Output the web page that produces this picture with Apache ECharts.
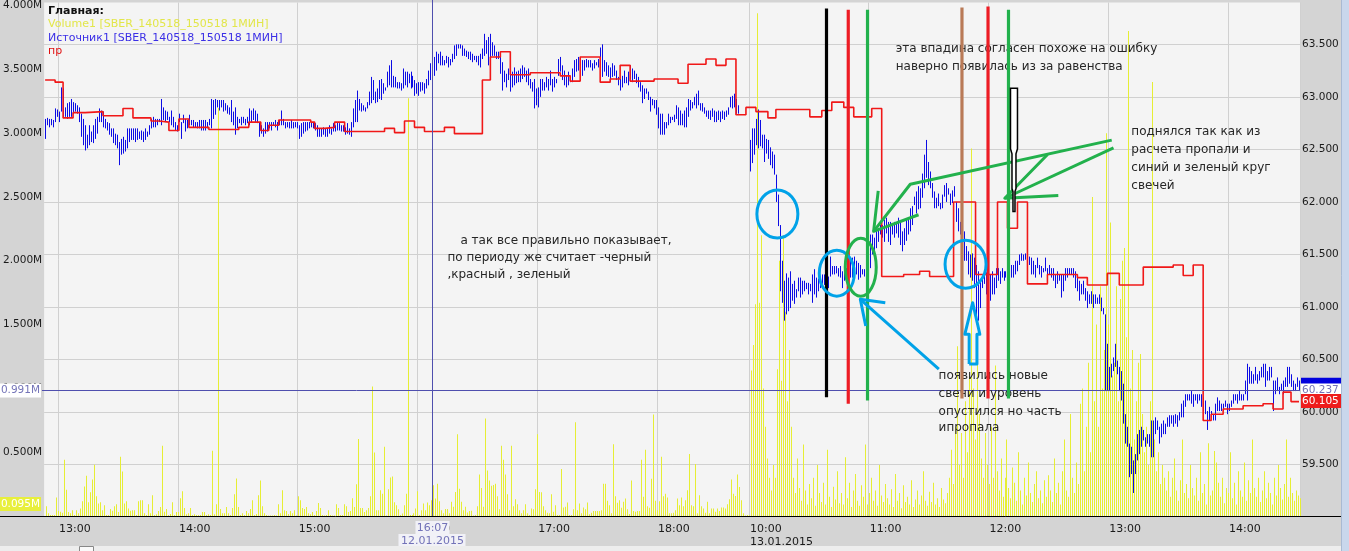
<!DOCTYPE html>
<html><head><meta charset="utf-8">
<script src="https://cdn.jsdelivr.net/npm/echarts@6/dist/echarts.min.js"></script>
<style>html,body{margin:0;padding:0;background:#d4d4d4;overflow:hidden}#c{width:1349px;height:551px}</style>
</head><body><div id="c"></div>
<script>
// ---------- DATA ----------
const sessions = [['12.01.2015','12:53','18:45'],['13.01.2015','10:00','14:35']];
const seriesNames = ['Volume1 [SBER_140518_150518 1МИН]','Источник1 [SBER_140518_150518 1МИН]','пр'];
// 1-minute highs / lows of "Источник1", in kopecks (price*100)
const highs = [
6279,6280,6279,6279,6278,6289,6288,6286,6309,6308, 6290,6294,6295,6298,6295,6294,6292,6290,6284,6279,
6273,6264,6273,6267,6273,6279,6281,6289,6287,6286, 6279,6276,6275,6270,6270,6265,6264,6257,6260,6262,
6259,6270,6270,6270,6270,6270,6270,6267,6268,6267, 6270,6267,6273,6279,6281,6279,6279,6279,6298,6290,
6287,6286,6281,6287,6281,6276,6273,6284,6276,6283, 6279,6278,6283,6278,6278,6276,6276,6278,6278,6278,
6278,6276,6279,6298,6297,6298,6297,6297,6297,6297, 6294,6292,6290,6297,6286,6290,6281,6279,6281,6281,
6279,6281,6289,6287,6289,6287,6284,6276,6273,6270, 6276,6276,6276,6276,6276,6278,6276,6278,6287,6279,
6276,6276,6276,6278,6276,6276,6276,6273,6275,6276, 6276,6276,6276,6276,6276,6275,6273,6270,6270,6271,
6270,6270,6273,6270,6275,6273,6276,6275,6273,6273, 6271,6275,6270,6276,6289,6297,6306,6298,6294,6292,
6290,6295,6305,6319,6316,6305,6308,6316,6317,6313, 6309,6324,6330,6335,6320,6319,6314,6314,6313,6327,
6324,6324,6322,6324,6320,6316,6313,6314,6314,6314, 6313,6317,6325,6332,6332,6338,6343,6341,6343,6339,
6335,6339,6338,6336,6341,6349,6350,6350,6350,6349, 6346,6344,6343,6343,6341,6339,6339,6339,6341,6346,
6360,6354,6357,6360,6352,6349,6343,6343,6339,6333, 6325,6322,6327,6327,6324,6328,6324,6325,6327,6330,
6328,6325,6327,6317,6314,6317,6308,6309,6317,6317, 6314,6319,6317,6325,6317,6319,6317,6336,6338,6330,
6325,6320,6324,6320,6327,6335,6336,6338,6338,6335, 6335,6336,6335,6335,6332,6335,6333,6336,6347,6350,
6335,6333,6330,6328,6332,6330,6325,6319,6317,6320, 6325,6319,6324,6330,6327,6325,6322,6319,6314,6311,
6308,6308,6305,6300,6298,6297,6297,6290,6284,6284, 6276,6276,6284,6281,6281,6283,6292,6290,6287,6284,
6287,6290,6298,6297,6295,6300,6303,6306,6294,6294, 6290,6287,6287,6287,6289,6287,6286,6287,6286,6287,
6286,6287,6290,6300,6301,6303,6298,6292,null,null, null,null,null,6259,6270,6270,6279,6288,6278,6264,
6264,6260,6259,6252,6248,6245,6226,6207,6178,6144, 6125,6132,6128,6134,6122,6125,6117,6128,6128,6125,
6125,6123,6123,6122,6131,6136,6128,6127,6128,6131, 6131,6131,6129,6148,6139,6139,6139,6137,6139,6134,
6140,6137,6142,6144,6147,6148,6144,6142,6140,6136, 6136,6136,6159,6169,6169,6166,6172,6175,6178,6178,
6183,6185,6181,6181,6180,6181,6180,6185,6181,6172, 6175,6183,6185,6194,6196,6205,6210,6215,6213,6227,
6245,6259,6238,6229,6218,6210,6204,6208,6199,6207, 6216,6218,6213,6208,6211,6215,6200,6194,6181,6169,
6172,6158,6153,6150,6151,6147,6140,6134,6125,6128, 6134,6133,6128,6131,6134,6128,6137,6137,6134,6137,
6134,6134,6137,6140,6140,6140,6144,6144,6150,6151, 6150,6151,6153,6148,6147,6144,6140,6147,6140,6139,
6137,6147,6137,6140,6137,6137,6131,6134,6131,6131, 6131,6137,6137,6137,6137,6137,6134,6128,6125,6122,
6125,6118,6115,6112,6115,6112,6112,6109,6112,6109, 6099,6093,6065,6043,6046,6052,6065,6049,6043,6039,
6027,5998,5986,5970,5967,5954,5960,5979,5983,5986, 5983,5976,5979,5979,5992,5992,5995,5992,5986,5989,
5992,5989,5995,5997,5997,5997,5998,5997,6000,6008, 6011,6017,6017,6017,6020,6017,6017,6017,6017,6017,
6014,6011,6001,6005,6001,5998,6008,6014,6011,6008, 6008,6011,6008,6008,6011,6017,6017,6017,6020,6017,
6017,6030,6046,6043,6039,6036,6043,6036,6039,6043, 6046,6046,6039,6043,6043,6030,6030,6033,6024,6027,
6030,6033,6043,6043,6036,6030,6027,6033,6030];
const lows = [
6260,6273,6271,6273,6271,6276,6281,6276,6286,6281, 6281,6279,6281,6281,6284,6286,6284,6276,6262,6254,
6249,6251,6254,6257,6256,6260,6265,6276,6276,6271, 6270,6268,6264,6262,6256,6254,6251,6235,6245,6246,
6248,6251,6257,6259,6259,6257,6259,6260,6259,6257, 6259,6262,6264,6270,6271,6271,6273,6276,6273,6278,
6276,6278,6276,6273,6271,6268,6267,6276,6260,6275, 6267,6270,6273,6273,6271,6271,6270,6270,6268,6268,
6268,6270,6273,6270,6279,6283,6290,6287,6290,6286, 6287,6284,6283,6276,6273,6264,6270,6275,6273,6275,
6273,6275,6273,6276,6278,6276,6275,6262,6265,6262, 6265,6267,6270,6268,6273,6271,6268,6273,6273,6273,
6270,6271,6270,6270,6270,6271,6270,6260,6262,6265, 6267,6268,6270,6271,6270,6268,6262,6262,6262,6264,
6262,6262,6265,6264,6267,6267,6268,6268,6267,6267, 6264,6265,6264,6262,6271,6276,6276,6287,6286,6287,
6286,6289,6292,6294,6297,6294,6295,6298,6297,6303, 6306,6309,6311,6309,6309,6309,6308,6308,6306,6308,
6311,6309,6313,6308,6309,6301,6303,6301,6305,6306, 6303,6308,6311,6316,6320,6320,6325,6332,6330,6330,
6330,6332,6328,6330,6333,6336,6339,6346,6346,6339, 6339,6338,6336,6335,6333,6335,6333,6330,6328,6336,
6339,6341,6330,6335,6339,6339,6336,6336,6322,6306, 6314,6309,6316,6305,6309,6311,6313,6314,6314,6317,
6319,6314,6311,6308,6305,6289,6292,6290,6300,6306, 6306,6309,6306,6311,6305,6309,6313,6320,6324,6316,
6311,6309,6311,6314,6314,6319,6324,6325,6327,6320, 6325,6328,6328,6328,6325,6327,6330,6328,6333,6319,
6324,6320,6319,6314,6319,6320,6316,6311,6306,6309, 6313,6313,6311,6317,6314,6317,6313,6309,6305,6294,
6298,6303,6297,6286,6292,6289,6283,6270,6264,6264, 6264,6270,6273,6275,6278,6276,6279,6273,6273,6273,
6271,6271,6281,6287,6289,6292,6289,6292,6287,6286, 6284,6281,6279,6278,6281,6276,6276,6278,6276,6279,
6278,6281,6283,6290,6289,6290,6284,6284,null,null, null,null,null,6229,6237,6245,6254,6251,6253,6251,
6238,6246,6241,6235,6232,6226,6200,6177,6115,6104, 6087,6093,6096,6099,6106,6103,6109,6115,6109,6112,
6115,6117,6112,6115,6104,6112,6109,6115,6118,6122, 6121,6118,6118,6129,6131,6131,6132,6129,6128,6118,
6125,6125,6131,6128,6128,6129,6131,6126,6128,6131, 6129,6131,6137,6137,6150,6153,6156,6162,6169,6166,
6162,6170,6162,6159,6169,6166,6170,6166,6159,6153, 6159,6163,6169,6172,6178,6197,6189,6193,6194,6204,
6213,6223,6216,6213,6204,6194,6194,6196,6193,6194, 6205,6200,6207,6197,6199,6205,6181,6172,6169,6150,
6144,6144,6131,6128,6125,6118,6087,6087,6099,6118, 6122,6112,6109,6106,6112,6112,6118,6125,6122,6128,
6125,6128,6118,6128,6128,6128,6131,6134,6140,6144, 6144,6145,6144,6140,6131,6131,6128,6137,6131,6128,
6133,6134,6128,6131,6128,6125,6118,6122,6125,6109, 6115,6125,6128,6131,6131,6128,6118,6115,6106,6112,
6112,6106,6099,6103,6103,6099,6103,6103,6103,6096, 6093,6020,6020,6020,6033,6039,6043,6036,6020,6011,
5989,5970,5967,5938,5941,5923,5941,5954,5960,5967, 5973,5967,5970,5967,5957,5957,5979,5983,5970,5976,
5979,5979,5986,5986,5989,5986,5989,5986,5992,5995, 5995,6005,6011,6011,6008,6005,6011,6008,6011,6005,
6001,5998,5983,5992,5995,5992,5992,6001,6001,6001, 6001,6005,5998,6001,6005,6008,6011,6008,6011,6011,
6011,6017,6011,6027,6027,6027,6030,6027,6030,6033, 6033,6024,6030,6030,6033,6001,6017,6020,6017,6020,
6017,6024,6024,6027,6024,6020,6020,6024,6020];
// 1-minute volume of "Volume1", thousands of shares
const volumes = [
77,21,8,8,8,144,39,33,26,441, 206,31,21,46,8,46,21,59,116,232, 315,108,186,286,402,155,98,108,46,85,
8,8,54,41,77,93,31,464,348,98, 116,59,41,46,46,8,116,124,124,21, 8,93,21,163,8,13,39,70,550,33,
54,8,15,108,8,31,31,139,194,62, 13,21,62,8,13,8,8,8,31,31, 8,13,8,511,13,93,3197,54,21,21,
70,21,8,62,170,294,70,8,21,8, 39,21,54,124,8,15,163,279,77,21, 8,3,3,3,8,3,93,21,201,46,
39,15,39,21,46,3,155,124,62,54, 70,21,13,31,8,39,101,62,8,3, 8,46,8,3,3,93,62,8,8,93,
77,31,39,139,70,248,604,62,62,31, 46,62,155,1014,498,46,46,201,175,542, 3,209,302,310,108,85,52,8,20,85,
175,3274,8,8,21,59,194,8,46,98, 46,106,85,124,240,137,253,116,46,21, 54,54,21,111,72,188,640,214,111,46,
72,28,39,41,3,8,77,325,219,72, 764,356,279,237,242,253,155,52,550,441, 325,170,46,550,77,132,93,46,21,46,
93,21,8,59,52,209,640,188,186,77, 46,26,21,170,33,85,8,8,369,67, 72,106,8,8,52,735,46,98,21,67,
52,106,13,26,39,39,39,39,46,253, 253,119,85,21,562,155,103,124,64,111, 137,52,15,279,39,33,39,39,441,150,
519,77,64,291,795,119,46,116,464,155, 175,144,21,21,26,46,137,85,144,77, 124,201,485,85,77,408,21,163,77,59,
26,111,21,59,59,33,59,39,67,67, 59,93,132,286,175,157,325,227,124,21, 3,8,5,
1140,1340,1660,3940,1670,2200,1000,700,450,300,200,400,300,
1150,2000,1060,2200,1600,900,1300,700,
300,180,450,220,120,560,200,90,250,140,300,80,400,180,110,260,90,520,150,70,230,130,
350,100,180,90,460,140,260,70,200,330,120,80,240,150,560,90,180,300,120,200,80,400,160,110,250,
140,90,210,70,330,120,180,60,240,110,150,90,280,70,130,200,90,160,350,120,80,190,110,260,90,140,70,220,130,100,
180,300,520,250,700,1330,400,650,300,900,500,1100,2880,1000,600,1400,800,450,300,650,
400,250,700,300,1180,350,200,450,150,300,600,220,140,380,260,120,500,200,90,300,160,420,180,110,250,350,140,200,100,280,
150,320,200,110,450,180,260,90,350,600,200,150,800,300,180,420,250,880,1000,350,700,1200,500,2500,900,1500,700,1800,1000,1300,
3000,1500,2300,1100,1200,1800,900,1700,2000,2100,1400,3800,1000,1300,600,900,1200,1270,800,500,700,400,900,3400,600,350,500,250,400,300,
200,350,150,300,450,200,120,280,600,180,250,140,400,220,160,300,120,500,180,250,90,570,160,200,510,420,260,150,300,100,
220,180,500,140,260,90,350,200,150,420,120,280,180,600,220,150,300,110,200,350,140,260,180,90,300,160,400,220,130,250,
600,150,300,180,120,200,160,140,95];
// "пр" step line: minute index where each level starts, level in kopecks
const prStart = [0,5,9,14,20,29,39,44,53,57,62,67,72,82,97,102,108,112,117,133,135,140,145,150,170,175,180,185,190,200,
205,219,223,228,233,243,258,263,268,278,283,288,293,305,317,322,331,336,341,346,351,356,362,366,383,389,394,400,405,414,
419,430,438,443,455,466,477,482,487,492,502,517,522,532,538,550,565,570,575,580,584,590,600,610,615,620,624];
const prValue = [6316,6314,6280,6285,6286,6282,6289,6280,6277,6276,6268,6279,6271,6269,6271,6276,6268,6273,6278,6276,
6270,6271,6276,6267,6270,6266,6277,6271,6267,6271,6265,6316,6338,6343,6321,6323,6320,6315,6338,6314,6317,6330,6315,6317,
6313,6331,6336,6330,6336,6283,6290,6286,6280,6288,6281,6287,6295,6290,6281,6289,6129,6131,6134,6129,6200,6131,6200,6175,
6200,6122,6131,6128,6121,6132,6121,6138,6140,6130,6140,5992,5998,6003,6006,6008,6003,6019,6010];
const volTicks = [500000,1000000,1500000,2000000,2500000,3000000,3500000,4000000];
const priceTicks = [59.5,60,60.5,61,61.5,62,62.5,63,63.5];
const crosshair = {index:194, volume:991000, price:60.237};
const lastLabels = {source:60.26, pr:60.105, volume:95000};

// hand-drawn annotations (minute index, price)
const vLines = [[391.35,63.84,60.14,'#000'],[402.25,63.83,60.08,'#ed1c24'],[411.9,63.83,60.11,'#22b14c'],
                [459.2,63.85,60.13,'#b97a57'],[472.25,63.86,60.13,'#ed1c24'],[482.5,63.83,60.13,'#22b14c']];
const ellipses = [[366.75,61.885,20.5,24,'#00a2e8'],[396.5,61.322,17.5,23,'#00a2e8'],[461,61.407,20.5,24,'#00a2e8'],[408.5,61.379,15.5,29,'#22b14c']];
const polylines = [
 ['#00a2e8',[[447.6,60.410],[408.3,61.073]]],['#00a2e8',[[420.8,61.041],[408.3,61.073],[411,60.820]]],
 ['#00a2e8',[[462.8,60.457],[462.8,60.741],[460.65,60.741],[464.55,61.041],[468.15,60.741],[466.7,60.741],[466.7,60.457],[462.8,60.457]]],
 ['#22b14c',[[534.2,62.588],[433.3,62.168],[414.95,61.720]]],['#22b14c',[[417.25,62.105],[414.95,61.720],[437.45,61.878]]],
 ['#22b14c',[[535.1,62.515],[480.65,62.035]]],['#22b14c',[[502.05,62.452],[480.65,62.035],[507.45,62.061]]]];
const candleShape = [[483.5,63.083],[487,63.083],[487,62.506],[486.25,62.458],[486.25,62.127],[485.75,62.098],[485.75,61.909],
 [484.75,61.909],[484.75,62.098],[484.25,62.127],[484.25,62.458],[483.5,62.506]];
const notes = [[208,61.625,'а так все правильно показывает,'],[201.5,61.464,'по периоду же считает -черный'],[201.5,61.303,',красный , зеленый'],
 [426,63.453,'эта впадина согласен похоже на ошибку'],[426,63.282,'наверно появилась из за равенства'],
 [544,62.667,'поднялся так как из'],[544,62.496,'расчета пропали и'],[544,62.326,'синий и зеленый круг'],[544,62.155,'свечей'],
 [447.5,60.347,'появились новые'],[447.5,60.176,'свечи и уровень'],[447.5,60.006,'опустился но часть'],[447.5,59.845,'ипропала']];

// ---------- BUILD ----------
const cats = [], sessionFirst = new Set();
sessions.forEach(([d,a,b]) => {
  let [h,m] = a.split(':').map(Number); const [eh,em] = b.split(':').map(Number);
  sessionFirst.add(cats.length);
  while (h*60+m <= eh*60+em) { cats.push(d+' '+String(h).padStart(2,'0')+':'+String(m).padStart(2,'0')); m++; if (m===60){m=0;h++;} }
});
const isHour = (i, v) => v.endsWith(':00');
const priceData = highs.map((h,i) => [i, h==null?null:h/100, lows[i]==null?null:lows[i]/100]);
const volData = volumes.map((v,i) => [i, v*1000]);
const prData = prStart.map((s,k) => [s, prValue[k]/100]);
prData.push([cats.length-1, prValue[prValue.length-1]/100]);
const FONT = '"DejaVu Sans", Verdana, sans-serif';

const chart = echarts.init(document.getElementById('c'), null, {width:1349, height:551});
chart.setOption({
  animation:false,
  backgroundColor:'#d4d4d4',
  grid:{left:42, right:49, top:0, bottom:35, show:true, backgroundColor:'#f4f4f4', borderWidth:0},
  xAxis:{type:'category', data:cats, boundaryGap:true,
    axisLine:{show:false}, axisTick:{show:false},
    axisLabel:{interval:isHour, align:'left', margin:7, color:'#1a1a1a', fontSize:11, fontFamily:FONT, lineHeight:13,
      formatter:(v,i)=>{const p=v.split(' '); return sessionFirst.has(i)? p[1]+'\n'+p[0] : p[1];}},
    splitLine:{show:true, interval:isHour, lineStyle:{color:'#d0d0d0', width:1}}},
  yAxis:[
    {type:'value', position:'left', min:0, max:4023400,
      axisLine:{show:false}, axisTick:{show:false, customValues:volTicks}, splitLine:{show:false},
      axisLabel:{customValues:volTicks, margin:2, color:'#1a1a1a', fontSize:10.5, fontFamily:FONT,
        formatter:v=>(v/1e6).toFixed(3)+'M'}},
    {type:'value', position:'right', min:59.011, max:63.898,
      axisLine:{show:false}, axisTick:{show:false, customValues:priceTicks},
      splitLine:{show:true, lineStyle:{color:'#d0d0d0', width:1}},
      axisLabel:{customValues:priceTicks, margin:2, color:'#1a1a1a', fontSize:10.5, fontFamily:FONT, align:'left',
        formatter:v=>v.toFixed(3)}}
  ],
  series:[
    {name:seriesNames[0], type:'custom', xAxisIndex:0, yAxisIndex:0, data:volData, z:1, clip:true,
      encode:{x:0,y:1},
      renderItem:(p,api)=>{const v=api.value(1); if(!v) return null;
        const t=api.coord([api.value(0),v]), b=api.coord([api.value(0),0]);
        return {type:'rect', shape:{x:Math.round(t[0])+1, y:t[1], width:1, height:b[1]-t[1]}, style:{fill:'#e6ee34'}};}},
    {name:seriesNames[1], type:'custom', xAxisIndex:0, yAxisIndex:1, data:priceData, z:2, clip:true,
      encode:{x:0,y:[1,2]},
      renderItem:(p,api)=>{const h=api.value(1), l=api.value(2); if(h==null||isNaN(h)) return null;
        const a=api.coord([api.value(0),h]), b=api.coord([api.value(0),l]); const x=Math.round(a[0])+0.5;
        return {type:'line', shape:{x1:x, y1:a[1], x2:x, y2:Math.max(b[1],a[1]+1)}, style:{stroke:'#0c0ce4', lineWidth:1}};}},
    {name:seriesNames[2], type:'line', xAxisIndex:0, yAxisIndex:1, data:prData, step:'end', showSymbol:false, z:3,
      lineStyle:{color:'#f01818', width:1.6}}
  ]
});

// ---------- OVERLAYS ----------
const P = (idx, price) => {
  const i0 = Math.floor(idx), f = idx - i0;
  const a = chart.convertToPixel({seriesIndex:1}, [i0, price]);
  const b = chart.convertToPixel({seriesIndex:1}, [i0+1, price]);
  return [a[0] + f*(b[0]-a[0]), a[1]];
};
const YV = v => chart.convertToPixel({yAxisIndex:0}, v);
const g = [];
const txt = (x,y,text,fill,opts={}) => g.push({type:'text', x, y, z:opts.z||120, style:Object.assign({text, fill, font:(opts.font||'11px '+FONT), align:opts.align||'left', verticalAlign:'middle'}, opts.style||{})});
// chrome
g.push({type:'line', shape:{x1:0,y1:516.5,x2:1341,y2:516.5}, style:{stroke:'#000',lineWidth:1}, z:60});
g.push({type:'rect', shape:{x:0,y:546,width:1341,height:5}, style:{fill:'#ededed'}, z:60});
g.push({type:'rect', shape:{x:79.5,y:546.5,width:14,height:6}, style:{fill:'#fafafa',stroke:'#888',lineWidth:1}, z:61});
g.push({type:'rect', shape:{x:1341,y:0,width:8,height:551}, style:{fill:'#c9d7ec'}, z:60});
g.push({type:'line', shape:{x1:1341.5,y1:0,x2:1341.5,y2:551}, style:{stroke:'#a9bad3',lineWidth:1}, z:61});
// crosshair
const cx = Math.round(P(crosshair.index,60)[0])+0.5, cy = Math.round(YV(crosshair.volume))+0.5;
g.push({type:'line', shape:{x1:cx,y1:0,x2:cx,y2:516}, style:{stroke:'#4f4fae',lineWidth:1}, z:70});
g.push({type:'line', shape:{x1:42,y1:cy,x2:1300,y2:cy}, style:{stroke:'#4f4fae',lineWidth:1}, z:70});
// axis value boxes
const ys = P(0,lastLabels.source)[1];
g.push({type:'rect', shape:{x:1301,y:ys-7,width:40,height:14}, style:{fill:'#0000dd'}, z:80});
g.push({type:'rect', shape:{x:1301,y:cy-7,width:40,height:14}, style:{fill:'#ffffff'}, z:81});
txt(1302, cy, crosshair.price.toFixed(3), '#7474b8', {z:82, font:'10.5px '+FONT});
const yp = P(0,lastLabels.pr)[1];
g.push({type:'rect', shape:{x:1301,y:yp-7,width:40,height:14}, style:{fill:'#ee1c1c'}, z:83});
txt(1302, yp, lastLabels.pr.toFixed(3), '#ffffff', {z:84, font:'10.5px '+FONT});
g.push({type:'rect', shape:{x:0,y:cy-7,width:41,height:14}, style:{fill:'#ffffff'}, z:81});
txt(40, cy, (crosshair.volume/1e6).toFixed(3)+'M', '#7474b8', {z:82, align:'right', font:'10.5px '+FONT});
const yvl = YV(lastLabels.volume);
g.push({type:'rect', shape:{x:0,y:yvl-7,width:41,height:14}, style:{fill:'#e8ef3c'}, z:81});
txt(40, yvl, (lastLabels.volume/1e6).toFixed(3)+'M', '#ffffff', {z:82, align:'right', font:'10.5px '+FONT});
// time crosshair label
const cp = cats[crosshair.index].split(' ');
g.push({type:'rect', shape:{x:cx-17,y:521,width:34,height:13}, style:{fill:'#f1f1f7'}, z:81});
g.push({type:'rect', shape:{x:cx-34,y:534,width:67,height:12}, style:{fill:'#f1f1f7'}, z:81});
txt(cx, 528, cp[1], '#7272b8', {z:82, align:'center'});
txt(cx, 541, cp[0], '#7272b8', {z:82, align:'center'});
// legend
txt(48, 11.5, 'Главная:', '#111', {font:'bold 11px '+FONT});
txt(48, 24.5, seriesNames[0], '#e2e64a');
txt(48, 38, seriesNames[1], '#3b2fe6');
txt(48, 51.5, seriesNames[2], '#e01010');
// notes (under drawn lines)
notes.forEach(([i,p,t]) => { const q=P(i,p); txt(q[0], q[1], t, '#262626', {z:100, font:'12px '+FONT}); });
// drawn vertical lines
vLines.forEach(([i,p1,p2,c]) => { const a=P(i,p1), b=P(i,p2); g.push({type:'line', shape:{x1:a[0],y1:a[1],x2:a[0],y2:b[1]}, style:{stroke:c,lineWidth:3.2}, z:110}); });
// ellipses
ellipses.forEach(([i,p,rx,ry,c]) => { const q=P(i,p); g.push({type:'ellipse', shape:{cx:q[0],cy:q[1],rx,ry}, style:{fill:null, stroke:c, lineWidth:3}, z:111}); });
// arrows
polylines.forEach(([c,pts]) => g.push({type:'polyline', shape:{points:pts.map(([i,p])=>P(i,p))}, style:{stroke:c, lineWidth:3, fill:null, lineJoin:'round'}, z:112}));
g.push({type:'polygon', shape:{points:candleShape.map(([i,p])=>P(i,p))}, style:{fill:'#ffffff', stroke:'#000', lineWidth:1.5}, z:112});
chart.setOption({graphic:{elements:g}});
</script></body></html>
